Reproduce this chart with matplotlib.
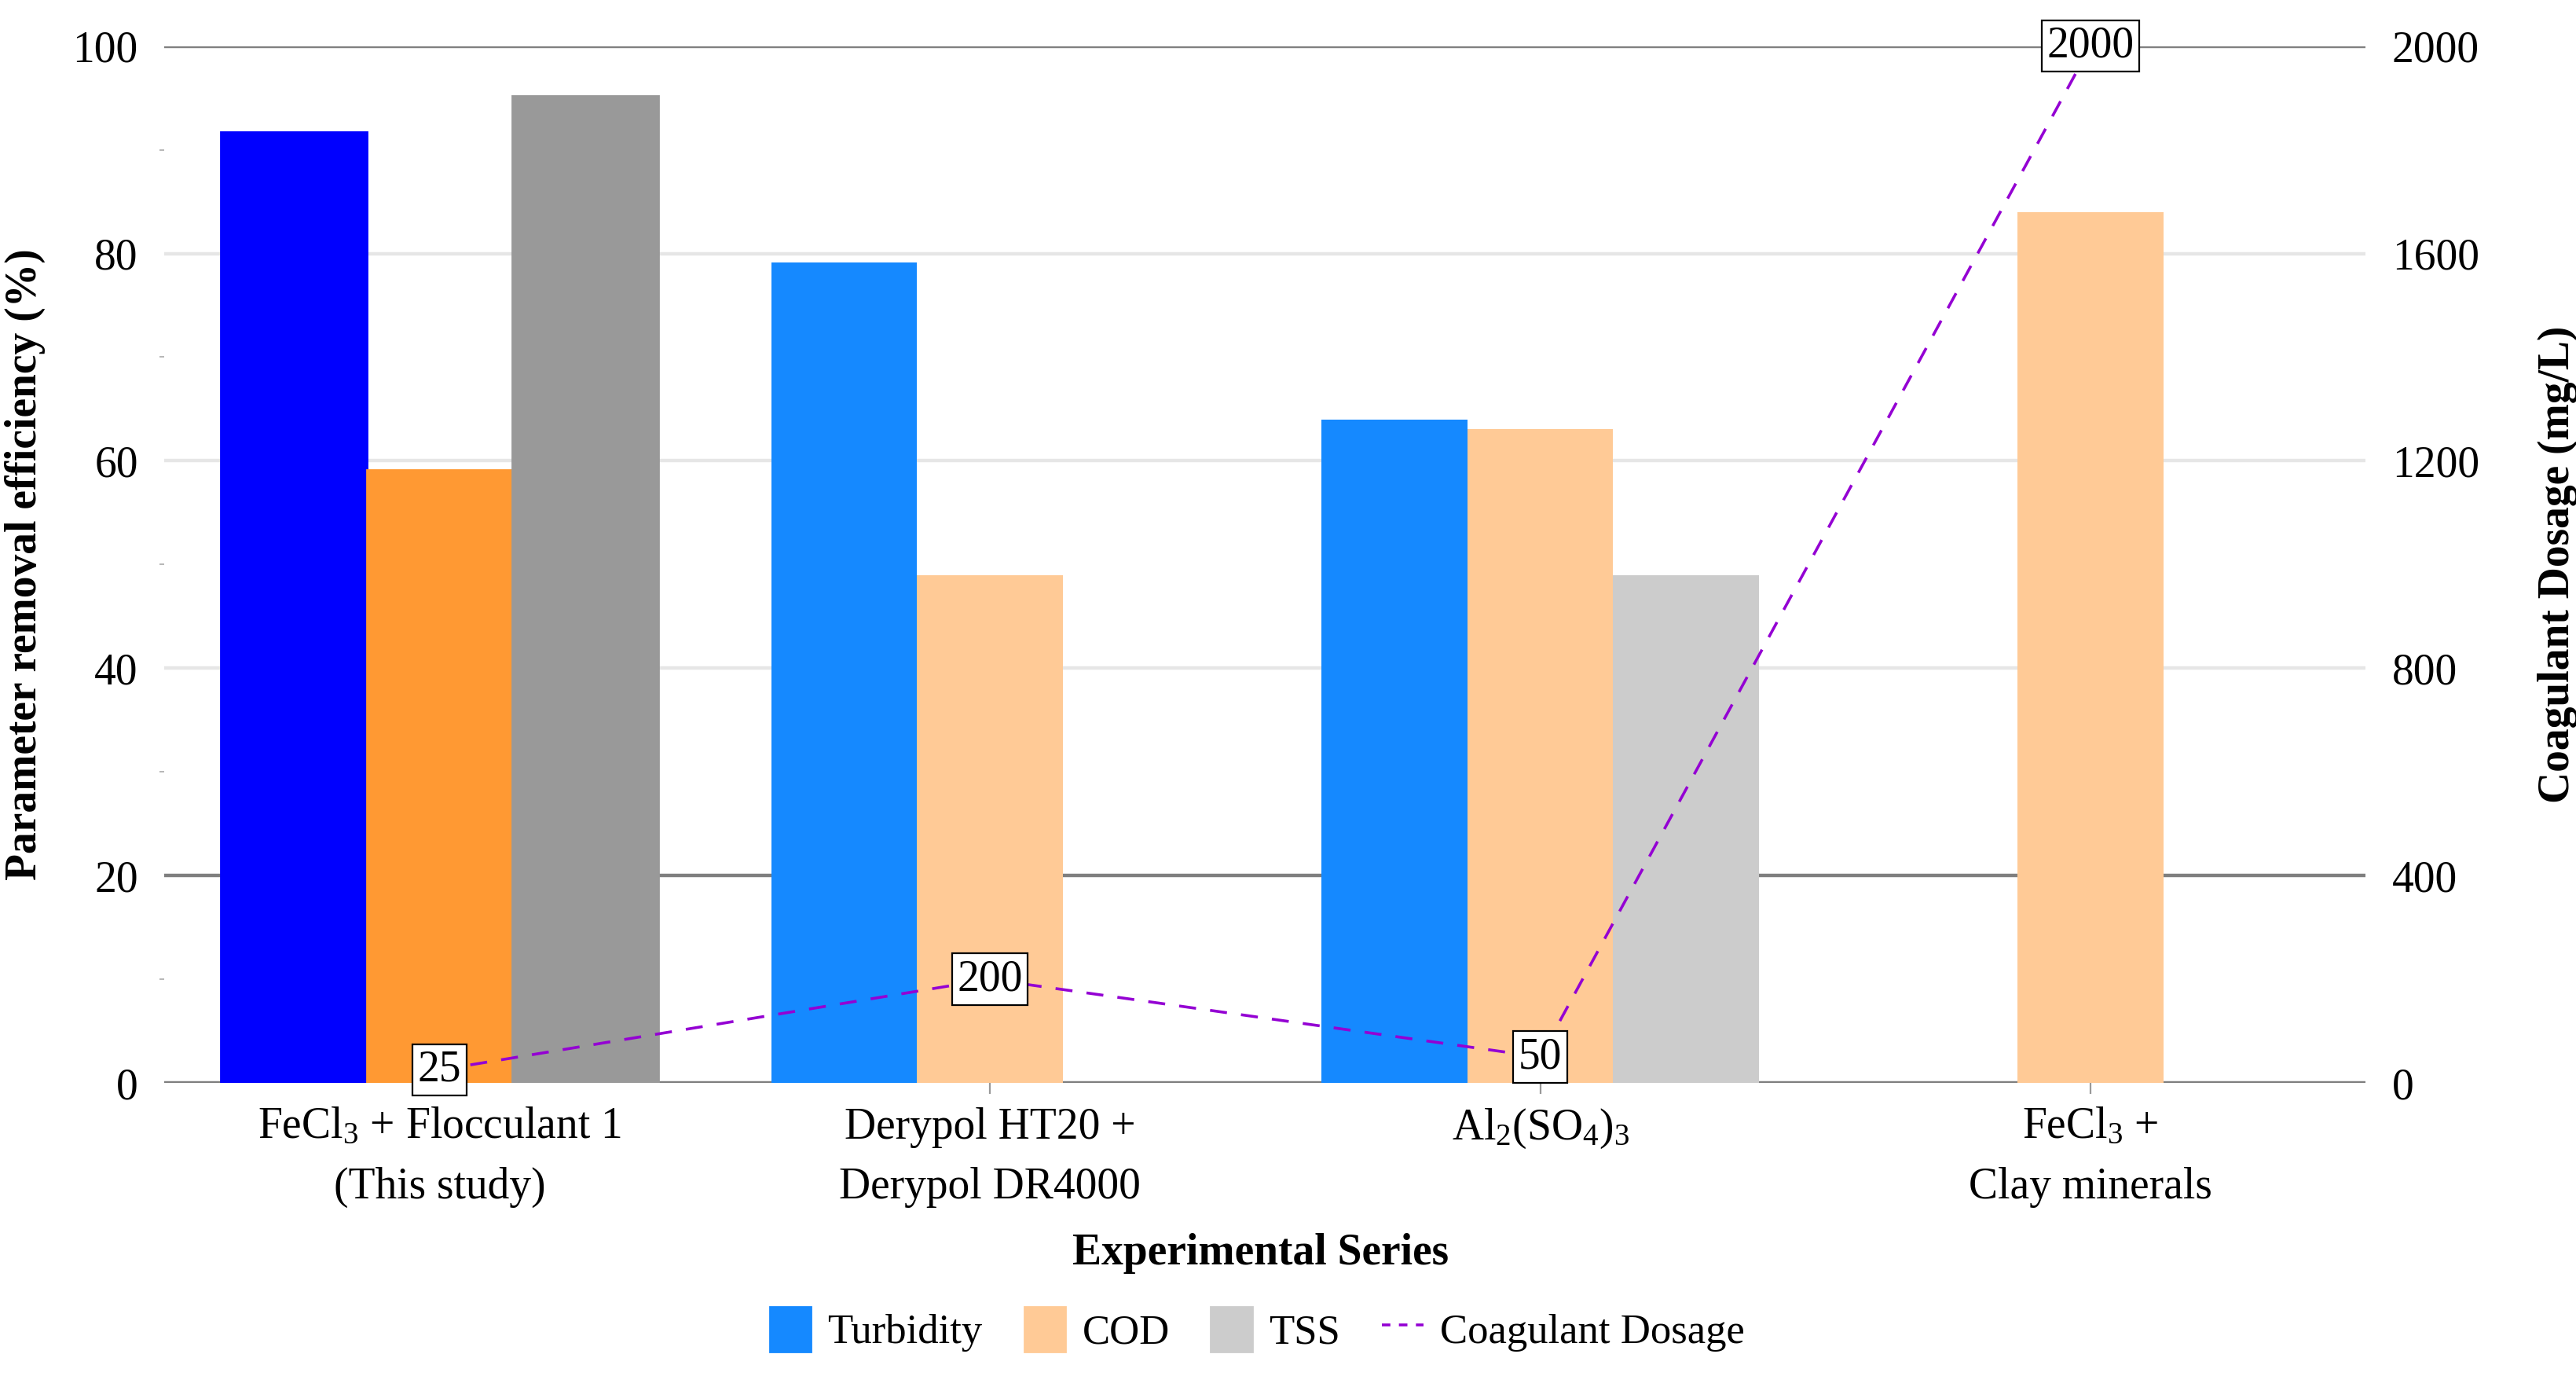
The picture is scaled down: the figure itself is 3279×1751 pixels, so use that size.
import numpy as np
import matplotlib.pyplot as plt
from matplotlib.lines import Line2D
from matplotlib.patches import Patch

plt.rcParams['font.family'] = ['Liberation Serif', 'DejaVu Serif']
plt.rcParams['mathtext.fontset'] = 'custom'
plt.rcParams['mathtext.rm'] = 'Liberation Serif'
plt.rcParams['mathtext.it'] = 'Liberation Serif:italic'
plt.rcParams['mathtext.bf'] = 'Liberation Serif:bold'

# data
categories = ['FeCl$_3$ + Flocculant 1\n(This study)',
              'Derypol HT20 +\nDerypol DR4000',
              'Al$_2$(SO$_4$)$_3$',
              'FeCl$_3$ +\nClay minerals']
turbidity = [91.7, 79.1, 64.0, np.nan]
cod = [59.1, 49.0, 63.1, 84.0]
tss = [95.2, np.nan, 49.0, np.nan]
dosage = [25, 200, 50, 2000]
left_ticks = [0, 20, 40, 60, 80, 100]
right_ticks = [0, 400, 800, 1200, 1600, 2000]

series_colors = ['#1589FF', '#FFCA96', '#CCCCCC']
first_group_colors = ['#0000FF', '#FF9933', '#999999']
line_color = '#9400D3'

fig = plt.figure(figsize=(16.395, 8.755), dpi=200)
ax = fig.add_axes([0.0638, 0.213, 0.8546, 0.7535])

x = np.arange(len(categories))
w = 0.265

# gridlines (two shades as in the original)
for v in left_ticks:
    dark = v in (0, 20, 100)
    ax.axhline(v, color='#7f7f7f' if dark else '#e6e6e6', lw=1.6, zorder=0)

bars = []
for i, (vals, col) in enumerate(zip([turbidity, cod, tss], series_colors)):
    b = ax.bar(x + (i - 1) * w, vals, width=w, color=col, zorder=2)
    b[0].set_color(first_group_colors[i])
    bars.append(b)

ax.set_xlim(-0.5, 3.5)
ax.set_ylim(0, 100)
ax.set_yticks(left_ticks)
ax.set_yticks([10, 30, 50, 70, 90], minor=True)
ax.set_xticks(x)
ax.set_xticklabels(categories, fontsize=20, linespacing=1.6)
ax.tick_params(axis='y', labelsize=20, length=0, pad=12)
ax.tick_params(axis='y', which='minor', length=2, color='#aaaaaa')
ax.tick_params(axis='x', length=5, color='#999999', pad=6)
for s in ax.spines.values():
    s.set_visible(False)

ax.set_ylabel('Parameter removal efficiency (%)', fontsize=20, fontweight='bold')
ax.yaxis.set_label_coords(-0.054, 0.5)
ax.set_xlabel('Experimental Series', fontsize=20, fontweight='bold')
ax.xaxis.set_label_coords(0.498, -0.145)

ax2 = ax.twinx()
ax2.set_ylim(0, 2000)
ax2.set_yticks(right_ticks)
ax2.tick_params(axis='y', labelsize=20, length=0, pad=12)
for s in ax2.spines.values():
    s.set_visible(False)
ax2.set_ylabel('Coagulant Dosage (mg/L)', fontsize=20, fontweight='bold')
ax2.yaxis.set_label_coords(1.078, 0.5)

ax2.plot(x, dosage, color=line_color, lw=1.3, ls=(0, (6, 5)), zorder=3)
for xi, d in zip(x, dosage):
    ax2.text(xi, d, str(d), fontsize=20, ha='center', va='center', zorder=5,
             bbox=dict(boxstyle='square,pad=0.12', fc='white', ec='black', lw=0.8))

handles = [Patch(color=c) for c in series_colors]
handles.append(Line2D([0], [0], color=line_color, lw=1.3, ls=(0, (3, 3))))
fig.legend(handles, ['Turbidity', 'COD', 'TSS', 'Coagulant Dosage'],
           loc='center', bbox_to_anchor=(0.488, 0.034), ncol=4, frameon=False,
           fontsize=19, handlelength=1.0, handleheight=1.3, columnspacing=1.0,
           handletextpad=0.4)

fig.savefig('out.png', dpi=200)
